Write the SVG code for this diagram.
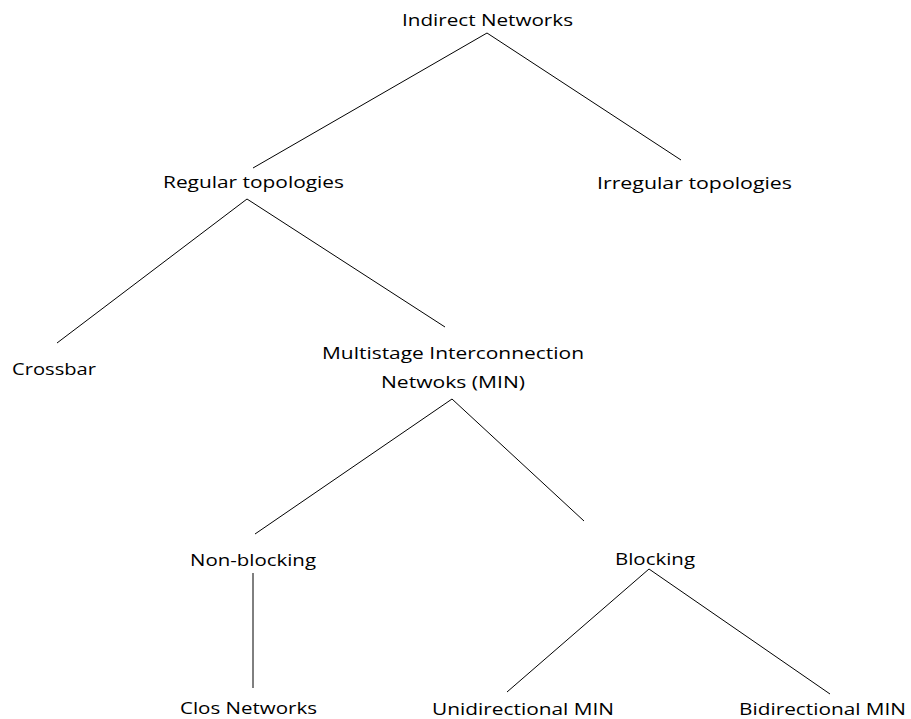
<svg xmlns="http://www.w3.org/2000/svg" width="911" height="719" viewBox="0 0 911 719">
  <style>
    text { font-family: "Open Sans", "Liberation Sans", sans-serif; font-size: 17px; fill: #000; }
    .edge { stroke: #000; stroke-width: 1; fill: none; }
  </style>
  <rect width="911" height="719" fill="#fff"/>
  <g id="connectors">
    <line class="edge" x1="487" y1="33" x2="253" y2="168"/>
    <line class="edge" x1="487" y1="33" x2="681" y2="160"/>
    <line class="edge" x1="247" y1="199" x2="57" y2="343"/>
    <line class="edge" x1="247" y1="199" x2="445" y2="327"/>
    <line class="edge" x1="452" y1="399" x2="255" y2="534"/>
    <line class="edge" x1="452" y1="399" x2="584" y2="521"/>
    <line class="edge" x1="253" y1="573" x2="253" y2="688"/>
    <line class="edge" x1="649" y1="569" x2="507" y2="692"/>
    <line class="edge" x1="649" y1="569" x2="830" y2="694"/>
  </g>
  <g id="indirect"><text x="402" y="26" textLength="171" lengthAdjust="spacingAndGlyphs">Indirect Networks</text></g>
  <g id="regular"><text x="163" y="188" textLength="181" lengthAdjust="spacingAndGlyphs">Regular topologies</text></g>
  <g id="irregular"><text x="597" y="189" textLength="195" lengthAdjust="spacingAndGlyphs">Irregular topologies</text></g>
  <g id="crossbar"><text x="12" y="375" textLength="84" lengthAdjust="spacingAndGlyphs">Crossbar</text></g>
  <g id="min">
    <text x="322" y="359" textLength="262" lengthAdjust="spacingAndGlyphs">Multistage Interconnection</text>
    <text x="381" y="388" textLength="144" lengthAdjust="spacingAndGlyphs">Netwoks (MIN)</text>
  </g>
  <g id="nonblocking"><text x="190" y="566" textLength="126" lengthAdjust="spacingAndGlyphs">Non-blocking</text></g>
  <g id="blocking"><text x="615" y="565" textLength="80" lengthAdjust="spacingAndGlyphs">Blocking</text></g>
  <g id="clos"><text x="180" y="714" textLength="137" lengthAdjust="spacingAndGlyphs">Clos Networks</text></g>
  <g id="unidirectional"><text x="432" y="715" textLength="182" lengthAdjust="spacingAndGlyphs">Unidirectional MIN</text></g>
  <g id="bidirectional"><text x="739" y="715" textLength="167" lengthAdjust="spacingAndGlyphs">Bidirectional MIN</text></g>
</svg>
